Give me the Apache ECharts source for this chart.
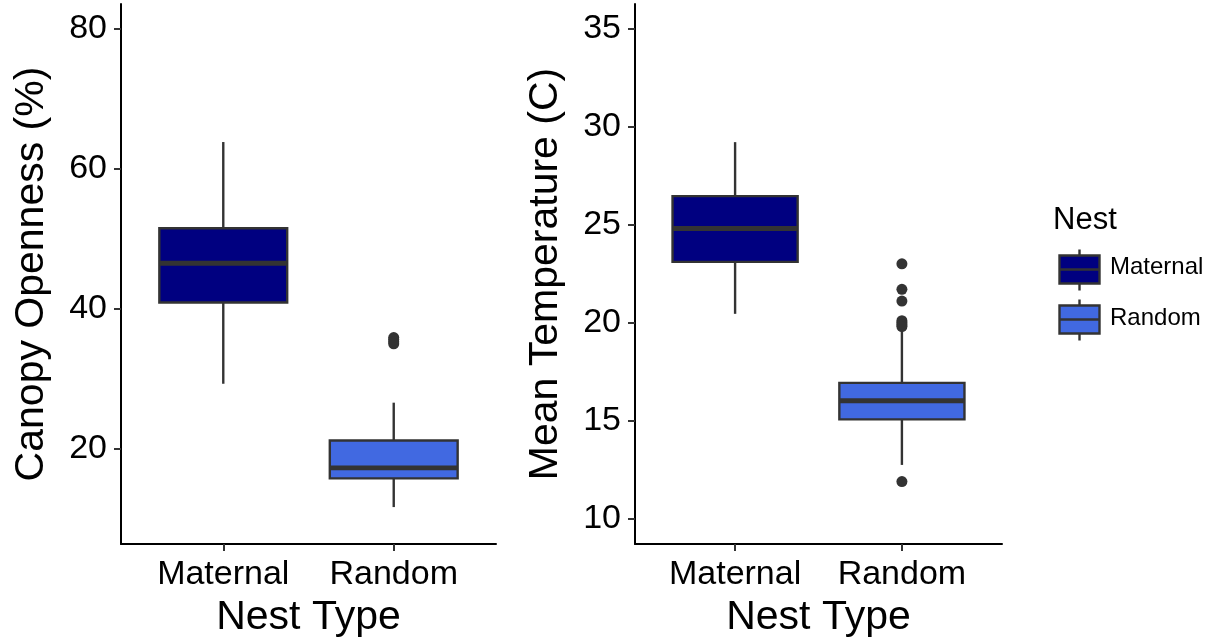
<!DOCTYPE html>
<html>
<head>
<meta charset="utf-8">
<script src="https://cdn.jsdelivr.net/npm/echarts@6/dist/echarts.min.js"></script>
<style>
  html, body { margin: 0; padding: 0; background: #fff; }
  #chart { width: 1214px; height: 639px; }
</style>
</head>
<body>
<div id="chart"></div>
<script>
// Nest types compared in both panels
const categories = ['Maternal', 'Random'];

// Box statistics per nest type: [lower whisker, Q1, median, Q3, upper whisker]
const canopyStats = [
  [29.3, 40.9, 46.5, 51.5, 63.8],
  [11.7, 15.8, 17.3, 21.2, 26.6]
];
const tempStats = [
  [20.45, 23.1, 24.8, 26.45, 29.2],
  [12.75, 15.07, 16.02, 16.93, 19.6]
];

// Outlying observations per nest type
const canopyOutliers = [
  [],
  [35.9, 35.6, 35.3, 35.0]
];
const tempOutliers = [
  [],
  [23.0, 21.7, 21.1, 20.1, 20.0, 19.9, 19.8, 11.9]
];

// Tick labels
const canopyTicks = [20, 40, 60, 80];
const tempTicks = [10, 15, 20, 25, 30, 35];

// Styling
const FILLS = ['#000080', '#4169E1'];
const LINE = '#333333';
const FONT = "'Liberation Sans', Arial, sans-serif";
const BOX_WIDTH = 0.75;

function boxRows(stats) {
  return stats.map((s, i) => [i + 1].concat(s));
}
function outlierPoints(outs) {
  const pts = [];
  outs.forEach((vals, i) => vals.forEach(v => pts.push([i + 1, v])));
  return pts;
}

function renderBox(params, api) {
  const x = api.value(0);
  const lo = api.value(1), q1 = api.value(2), med = api.value(3), q3 = api.value(4), hi = api.value(5);
  const half = BOX_WIDTH / 2;
  const tl = api.coord([x - half, q3]);
  const br = api.coord([x + half, q1]);
  const mid = api.coord([x, med]);
  const top = api.coord([x, hi]);
  const bot = api.coord([x, lo]);
  const lineStyle = { stroke: LINE, lineWidth: 2.4, fill: null };
  return {
    type: 'group',
    children: [
      { type: 'line', shape: { x1: mid[0], y1: top[1], x2: mid[0], y2: tl[1] }, style: lineStyle },
      { type: 'line', shape: { x1: mid[0], y1: br[1], x2: mid[0], y2: bot[1] }, style: lineStyle },
      { type: 'rect', shape: { x: tl[0], y: tl[1], width: br[0] - tl[0], height: br[1] - tl[1] },
        style: { fill: FILLS[params.dataIndex], stroke: LINE, lineWidth: 2.4 } },
      { type: 'line', shape: { x1: tl[0], y1: mid[1], x2: br[0], y2: mid[1] },
        style: { stroke: LINE, lineWidth: 4.8 } }
    ]
  };
}

function xAxisFor(gridIndex) {
  return {
    type: 'value', gridIndex: gridIndex, min: 0.4, max: 2.6,
    name: 'Nest Type', nameLocation: 'middle', nameGap: 52,
    nameTextStyle: { fontSize: 41, color: '#000', fontFamily: FONT },
    axisLine: { show: true, onZero: false, lineStyle: { color: '#000', width: 2 } },
    axisTick: { show: true, customValues: [1, 2], length: 7, lineStyle: { color: LINE, width: 2 } },
    axisLabel: { customValues: [1, 2], formatter: v => categories[Math.round(v) - 1] || '',
      fontSize: 34, color: '#000', fontFamily: FONT, margin: 14 },
    splitLine: { show: false }
  };
}

function yAxisFor(gridIndex, name, min, max, ticks) {
  return {
    type: 'value', gridIndex: gridIndex, min: min, max: max,
    name: name, nameLocation: 'middle', nameGap: 69,
    nameTextStyle: { fontSize: 41, color: '#000', fontFamily: FONT },
    axisLine: { show: true, onZero: false, lineStyle: { color: '#000', width: 2 } },
    axisTick: { show: true, customValues: ticks, length: 7, lineStyle: { color: LINE, width: 2 } },
    axisLabel: { customValues: ticks, fontSize: 34, color: '#000', fontFamily: FONT, margin: 14 },
    splitLine: { show: false }
  };
}

const chart = echarts.init(document.getElementById('chart'), null, { renderer: 'canvas' });

const legendKey = (y, fill) => ({
  type: 'group', left: 1057, top: y,
  children: [
    { type: 'line', shape: { x1: 20, y1: 0, x2: 20, y2: 41 }, style: { stroke: LINE, lineWidth: 2.4 } },
    { type: 'rect', shape: { x: 0, y: 6, width: 40, height: 28 }, style: { fill: fill, stroke: LINE, lineWidth: 2.4 } },
    { type: 'line', shape: { x1: 0, y1: 20, x2: 40, y2: 20 }, style: { stroke: LINE, lineWidth: 2.4 } }
  ]
});

chart.setOption({
  backgroundColor: '#fff',
  animation: false,
  grid: [
    { left: 121, top: 4, width: 375, height: 540, containLabel: false, outerBoundsMode: 'none' },
    { left: 635, top: 4, width: 367, height: 540, containLabel: false, outerBoundsMode: 'none' }
  ],
  xAxis: [xAxisFor(0), xAxisFor(1)],
  yAxis: [
    yAxisFor(0, 'Canopy Openness (%)', 6.43, 83.5, canopyTicks),
    yAxisFor(1, 'Mean Temperature (C)', 8.72, 36.24, tempTicks)
  ],
  series: [
    { type: 'custom', xAxisIndex: 0, yAxisIndex: 0, renderItem: renderBox,
      encode: { x: 0, y: [1, 2, 3, 4, 5] }, data: boxRows(canopyStats) },
    { type: 'scatter', xAxisIndex: 0, yAxisIndex: 0, symbolSize: 11,
      itemStyle: { color: LINE, opacity: 1 }, data: outlierPoints(canopyOutliers) },
    { type: 'custom', xAxisIndex: 1, yAxisIndex: 1, renderItem: renderBox,
      encode: { x: 0, y: [1, 2, 3, 4, 5] }, data: boxRows(tempStats) },
    { type: 'scatter', xAxisIndex: 1, yAxisIndex: 1, symbolSize: 11,
      itemStyle: { color: LINE, opacity: 1 }, data: outlierPoints(tempOutliers) }
  ],
  graphic: [
    { type: 'text', left: 1053, top: 205, style: { text: 'Nest', font: '31px ' + FONT, fill: '#000' } },
    legendKey(247, FILLS[0]),
    { type: 'text', left: 1110, top: 255, style: { text: categories[0], font: '24px ' + FONT, fill: '#000' } },
    legendKey(297, FILLS[1]),
    { type: 'text', left: 1110, top: 306, style: { text: categories[1], font: '24px ' + FONT, fill: '#000' } }
  ]
});
</script>
</body>
</html>
